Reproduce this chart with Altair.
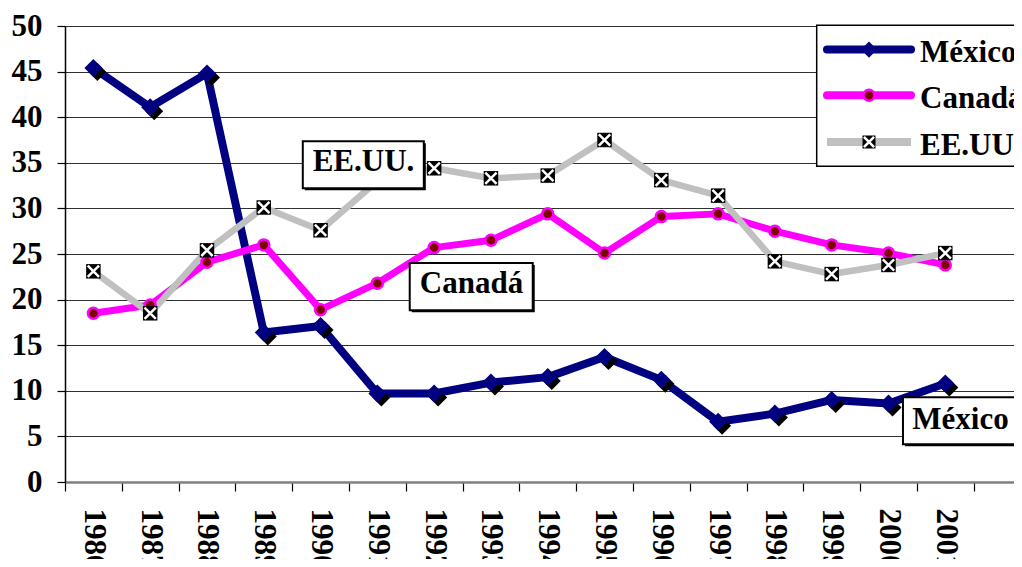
import altair as alt
import pandas as pd

# ---- data ----
years = list(range(1986, 2002))
mexico = [45.4, 41.1, 44.8, 16.4, 17.1, 9.7, 9.7, 10.9, 11.5, 13.7, 11.2, 6.6, 7.5, 9.0, 8.6, 10.8]
canada = [18.5, 19.4, 24.1, 26.0, 18.9, 21.8, 25.7, 26.5, 29.4, 25.1, 29.1, 29.4, 27.5, 26.0, 25.1, 23.8]
eeuu = [23.1, 18.5, 25.4, 30.1, 27.6, 33.0, 34.4, 33.3, 33.6, 37.5, 33.1, 31.4, 24.2, 22.8, 23.8, 25.1]
series_names = ["México", "Canadá", "EE.UU."]
y_ticks = list(range(0, 51, 5))
x_tick_values = years + [2002]

# annotation labels (data units)
ann_text = ["EE.UU.", "Canadá", "México"]
ann_x = [1990.756, 1992.658, 2001.268]
ann_y = [34.05, 20.69, 5.78]
ann_x1 = [1989.687, 1991.570, 2000.255]
ann_x2 = [1991.818, 1993.736, 2002.280]
ann_y1 = [37.36, 24.01, 9.29]
ann_y2 = [32.20, 18.83, 4.14]

FONT = "Liberation Serif"
FS = 31
NAVY = "#000080"
MAG = "#FF00FF"
GREY = "#C0C0C0"
DARKRED = "#800000"

rows = []
for name, vals in zip(series_names, [mexico, canada, eeuu]):
    for y, v in zip(years, vals):
        rows.append({"year": y, "value": v, "series": name})
df = pd.DataFrame(rows)
ann = pd.DataFrame({"text": ann_text, "x": ann_x, "y": ann_y,
                    "x1": ann_x1, "x2": ann_x2, "y1": ann_y1, "y2": ann_y2})
one = pd.DataFrame({"a": [0]})

PX_PER_YEAR = 56.79
xscale = alt.Scale(domain=[1985.5, 2002.21], nice=False, zero=False)
yscale = alt.Scale(domain=[0, 50], nice=False)

xaxis = alt.Axis(values=x_tick_values, format="d",
                 labelExpr="datum.value == 2002 ? '' : datum.label",
                 tickOffset=-PX_PER_YEAR / 2, labelOffset=PX_PER_YEAR / 2,
                 labelAngle=90, labelAlign="left", labelBaseline="middle",
                 labelPadding=17, tickSize=9, tickColor="black", tickWidth=1.2,
                 domainColor="#808080", domainWidth=2.5, grid=False,
                 labelFont=FONT, labelFontSize=FS, labelFontWeight="bold",
                 labelColor="black", labelOverlap=False, labelFlush=False,
                 labelBound=False, title=None)
yaxis = alt.Axis(values=y_ticks, grid=True, gridColor="#303030", gridWidth=1.1,
                 domainColor="black", domainWidth=1.5, tickSize=8,
                 tickColor="black", tickWidth=1.2, labelPadding=15,
                 labelFont=FONT, labelFontSize=FS, labelFontWeight="bold",
                 labelColor="black", title=None)

X = alt.X("year:Q", scale=xscale, axis=xaxis)
Y = alt.Y("value:Q", scale=yscale, axis=yaxis)

base = alt.Chart(df).encode(x=X, y=Y)

def ser(name):
    return base.transform_filter(alt.datum.series == name)

line_mex = ser("México").mark_line(color=NAVY, strokeWidth=8, strokeJoin="round", strokeCap="round")
line_can = ser("Canadá").mark_line(color=MAG, strokeWidth=7, strokeJoin="round", strokeCap="round")
line_usa = ser("EE.UU.").mark_line(color=GREY, strokeWidth=6.5, strokeJoin="round")

dx = 4 / PX_PER_YEAR
dy = 4 / 9.12
mex_shadow = alt.Chart(df).transform_filter(alt.datum.series == "México").transform_calculate(
    sx=f"datum.year + {dx}", sy=f"datum.value - {dy}"
).mark_point(shape="diamond", filled=True, color="black", size=324, opacity=1).encode(
    x=alt.X("sx:Q", scale=xscale, axis=xaxis), y=alt.Y("sy:Q", scale=yscale, axis=yaxis))
pts_mex = ser("México").mark_point(shape="diamond", filled=True, color=NAVY, size=324, opacity=1)
pts_can = ser("Canadá").mark_point(shape="circle", filled=True, fill=DARKRED, stroke=MAG,
                                    strokeWidth=2.5, size=121, opacity=1)
XPATH = "M-0.78,-0.78L0.78,0.78M-0.78,0.78L0.78,-0.78"
pts_usa = ser("EE.UU.").mark_point(shape="square", filled=True, color="black", size=210, opacity=1)
pts_usa_x = ser("EE.UU.").mark_point(shape=XPATH, filled=False, color="white", strokeWidth=2.5,
                                      size=210, opacity=1)

# annotation boxes
annb = alt.Chart(ann)
ann_shadow = annb.transform_calculate(
    sx1=f"datum.x1 + {2 / PX_PER_YEAR}", sx2=f"datum.x2 + {2 / PX_PER_YEAR}",
    sy1=f"datum.y1 - {2 / 9.12}", sy2=f"datum.y2 - {2 / 9.12}"
).mark_rect(fill="black").encode(
    x=alt.X("sx1:Q", scale=xscale, axis=xaxis), x2="sx2:Q",
    y=alt.Y("sy1:Q", scale=yscale, axis=yaxis), y2="sy2:Q")
ann_rect = annb.mark_rect(fill="white", stroke="black", strokeWidth=2).encode(
    x=alt.X("x1:Q", scale=xscale, axis=xaxis), x2="x2:Q",
    y=alt.Y("y1:Q", scale=yscale, axis=yaxis), y2="y2:Q")
ann_txt = annb.mark_text(font=FONT, fontSize=FS, fontWeight="bold", color="black",
                         align="center", baseline="alphabetic").encode(
    x=alt.X("x:Q", scale=xscale, axis=xaxis), y=alt.Y("y:Q", scale=yscale, axis=yaxis),
    text="text:N")

# manual legend (pixel positions in the plot area)
leg = alt.Chart(one)
leg_box = leg.mark_rect(fill="white", stroke="black", strokeWidth=1.5).encode(
    x=alt.value(751.7), x2=alt.value(965), y=alt.value(-0.7), y2=alt.value(140.3))
leg_layers = [leg_box]
leg_y = [23.6, 69.3, 116.0]
leg_text_y = [36.0, 81.6, 129.3]
leg_cols = [NAVY, MAG, GREY]
leg_caps = ["round", "round", "butt"]
for name, ly, ty, col, cap in zip(series_names, leg_y, leg_text_y, leg_cols, leg_caps):
    leg_layers.append(leg.mark_rule(color=col, strokeWidth=8, strokeCap=cap).encode(
        x=alt.value(762), x2=alt.value(846), y=alt.value(ly)))
    leg_layers.append(leg.mark_text(font=FONT, fontSize=FS, fontWeight="bold", color="black",
                                    align="left", baseline="alphabetic").encode(
        x=alt.value(855), y=alt.value(ty), text=alt.value(name)))
leg_layers.append(leg.mark_point(shape="diamond", filled=True, color=NAVY, size=260, opacity=1).encode(
    x=alt.value(804), y=alt.value(leg_y[0])))
leg_layers.append(leg.mark_point(shape="circle", filled=True, fill=DARKRED, stroke=MAG,
                                 strokeWidth=2.5, size=121, opacity=1).encode(
    x=alt.value(804), y=alt.value(leg_y[1])))
leg_layers.append(leg.mark_point(shape="square", filled=True, color="black", size=169, opacity=1).encode(
    x=alt.value(804), y=alt.value(leg_y[2])))
leg_layers.append(leg.mark_point(shape=XPATH, filled=False, color="white", strokeWidth=2.5,
                                 size=169, opacity=1).encode(
    x=alt.value(804), y=alt.value(leg_y[2])))

chart = alt.layer(
    line_mex, line_can, line_usa,
    mex_shadow, pts_mex, pts_can, pts_usa, pts_usa_x,
    ann_shadow, ann_rect, ann_txt,
    *leg_layers
).properties(
    width=949, height=456,
    autosize=alt.AutoSizeParams(type="none"),
    padding={"left": 57, "top": 18, "right": 0, "bottom": 77},
    background="white",
).configure_view(strokeOpacity=0)

chart.save("out.html", embed_options={"renderer": "svg", "actions": False})
